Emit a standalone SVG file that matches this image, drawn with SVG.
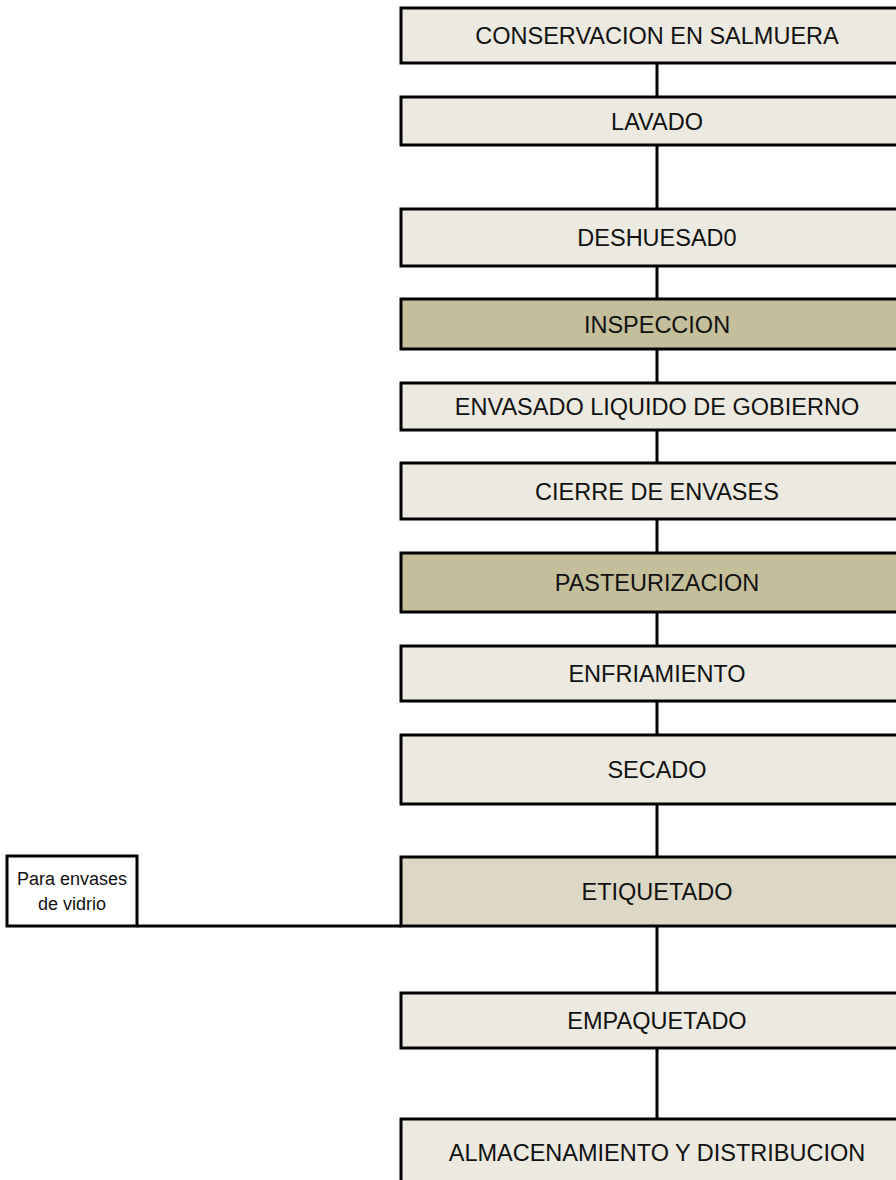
<svg xmlns="http://www.w3.org/2000/svg" width="896" height="1180" viewBox="0 0 896 1180">
<style>
.box{stroke:#000;stroke-width:3}
.l{fill:#ECEAE0}
.d{fill:#C4BE9B}
.m{fill:#DDD8C5}
.w{fill:#FFFFFF}
.t{font-family:"Liberation Sans",Arial,sans-serif;font-size:23.5px;fill:#111;text-anchor:middle}
.s{font-family:"Liberation Sans",Arial,sans-serif;font-size:18px;fill:#111;text-anchor:middle}
.c{stroke:#000;stroke-width:3;fill:none}
</style>
<rect width="896" height="1180" fill="#FFFFFF"/>
<g id="connectors">
<line class="c" x1="657" y1="63" x2="657" y2="97"/>
<line class="c" x1="657" y1="145" x2="657" y2="209"/>
<line class="c" x1="657" y1="266" x2="657" y2="299"/>
<line class="c" x1="657" y1="349" x2="657" y2="383"/>
<line class="c" x1="657" y1="430" x2="657" y2="463"/>
<line class="c" x1="657" y1="519" x2="657" y2="553"/>
<line class="c" x1="657" y1="612" x2="657" y2="646"/>
<line class="c" x1="657" y1="701" x2="657" y2="735"/>
<line class="c" x1="657" y1="804" x2="657" y2="857"/>
<line class="c" x1="657" y1="926" x2="657" y2="993"/>
<line class="c" x1="657" y1="1048" x2="657" y2="1119"/>
<line class="c" x1="137" y1="926" x2="401" y2="926"/>
</g>
<g id="n1"><rect class="box l" x="401" y="8" width="520" height="55"/><text class="t" x="657" y="44">CONSERVACION EN SALMUERA</text></g>
<g id="n2"><rect class="box l" x="401" y="97" width="520" height="48"/><text class="t" x="657" y="129.5">LAVADO</text></g>
<g id="n3"><rect class="box l" x="401" y="209" width="520" height="57"/><text class="t" x="657" y="246">DESHUESAD0</text></g>
<g id="n4"><rect class="box d" x="401" y="299" width="520" height="50"/><text class="t" x="657" y="332.5">INSPECCION</text></g>
<g id="n5"><rect class="box l" x="401" y="383" width="520" height="47"/><text class="t" x="657" y="415">ENVASADO LIQUIDO DE GOBIERNO</text></g>
<g id="n6"><rect class="box l" x="401" y="463" width="520" height="56"/><text class="t" x="657" y="499.5">CIERRE DE ENVASES</text></g>
<g id="n7"><rect class="box d" x="401" y="553" width="520" height="59"/><text class="t" x="657" y="591">PASTEURIZACION</text></g>
<g id="n8"><rect class="box l" x="401" y="646" width="520" height="55"/><text class="t" x="657" y="682">ENFRIAMIENTO</text></g>
<g id="n9"><rect class="box l" x="401" y="735" width="520" height="69"/><text class="t" x="657" y="778">SECADO</text></g>
<g id="n10"><rect class="box m" x="401" y="857" width="520" height="69"/><text class="t" x="657" y="900">ETIQUETADO</text></g>
<g id="n11"><rect class="box l" x="401" y="993" width="520" height="55"/><text class="t" x="657" y="1029">EMPAQUETADO</text></g>
<g id="n12"><rect class="box l" x="401" y="1119" width="520" height="70"/><text class="t" x="657" y="1161">ALMACENAMIENTO Y DISTRIBUCION</text></g>
<g id="n13"><rect class="box w" x="7" y="856" width="130" height="70"/><text class="s" x="72" y="885">Para envases</text><text class="s" x="72" y="910">de vidrio</text></g>
</svg>
